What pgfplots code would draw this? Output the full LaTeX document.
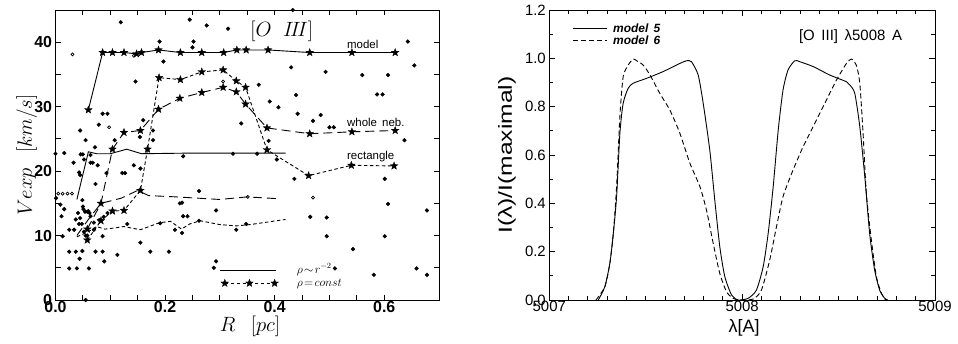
\documentclass[border=0pt]{standalone}
\usepackage{pgfplots}
\pgfplotsset{compat=1.18}
\usepackage{fontspec}
\setmainfont{Liberation Sans}
\usetikzlibrary{plotmarks}
\pgfdeclareplotmark{fstar}{%
  \pgfpathmoveto{\pgfpointpolar{90}{\pgfplotmarksize}}%
  \pgfpathlineto{\pgfpointpolar{126}{0.42\pgfplotmarksize}}%
  \pgfpathlineto{\pgfpointpolar{162}{\pgfplotmarksize}}%
  \pgfpathlineto{\pgfpointpolar{198}{0.42\pgfplotmarksize}}%
  \pgfpathlineto{\pgfpointpolar{234}{\pgfplotmarksize}}%
  \pgfpathlineto{\pgfpointpolar{270}{0.42\pgfplotmarksize}}%
  \pgfpathlineto{\pgfpointpolar{306}{\pgfplotmarksize}}%
  \pgfpathlineto{\pgfpointpolar{342}{0.42\pgfplotmarksize}}%
  \pgfpathlineto{\pgfpointpolar{18}{\pgfplotmarksize}}%
  \pgfpathlineto{\pgfpointpolar{54}{0.42\pgfplotmarksize}}%
  \pgfpathclose\pgfusepathqfillstroke}
\tikzset{
  longdash/.style={dash pattern=on 9bp off 5bp},
  shortdash/.style={dash pattern=on 3.5bp off 2.5bp},
}
\begin{document}
\begin{tikzpicture}
\begin{axis}[
  at={(55.5bp,44bp)}, anchor=south west, scale only axis,
  width=383.5bp, height=290bp,
  xmin=0, xmax=0.7, ymin=0, ymax=45,
  xtick={0,0.2,0.4,0.6}, minor x tick num=3,
  ytick={0,10,20,30,40}, minor y tick num=1,
  tick align=inside, major tick length=5bp, minor tick length=5bp,
  axis line style={line width=0.9bp}, every tick/.style={line width=0.8bp, black},
  /pgf/number format/assume math mode=true,
  xticklabel style={/pgf/number format/fixed, /pgf/number format/fixed zerofill, /pgf/number format/precision=1, font=\fontsize{16}{16}\selectfont\bfseries, yshift=2bp},
  yticklabel style={font=\fontsize{16}{16}\selectfont\bfseries},
  xlabel={$R\ \ \,[pc]$}, ylabel={$Vexp\ \ \,[km/s]$},
  label style={font=\fontsize{22}{24}\selectfont},
  xlabel style={at={(axis description cs:0.507,-0.092)}, anchor=center},
  ylabel style={at={(axis description cs:-0.075,0.5)}, anchor=center},
  clip=false,
]
% scatter points
\addplot[only marks, mark=*, mark size=1.9bp, black] coordinates {
(0.119,43.1)(0.245,43.5)(0.276,42.6)(0.315,42.1)(0.433,45.0)
(0.190,40.1)(0.252,40.1)(0.250,39.2)(0.197,37.0)
(0.643,40.1)(0.655,36.4)(0.430,36.1)(0.493,35.4)(0.560,34.9)(0.607,34.9)
(0.587,31.9)(0.597,31.9)(0.439,31.8)(0.391,30.8)(0.407,29.9)(0.442,28.9)(0.470,27.8)(0.484,28.7)
(0.371,33.4)(0.146,33.9)(0.339,27.4)(0.500,26.8)(0.508,26.8)(0.637,24.8)(0.389,24.7)
(0.436,18.8)(0.601,18.8)(0.607,14.9)(0.678,13.9)
(0.495,12.8)(0.495,9.9)(0.601,9.9)(0.543,7.9)(0.510,4.9)(0.581,3.9)(0.659,4.9)(0.678,3.9)
(0.465,12.9)
(0.233,22.3)(0.324,22.7)(0.368,22.7)(0.404,21.8)
(0.262,16.9)(0.231,15.1)(0.293,13.9)(0.233,13.0)(0.241,13.0)(0.262,12.3)(0.231,10.4)(0.330,10.9)(0.348,11.8)
(0.293,6.0)(0.289,5.0)
(0.207,7.5)(0.173,7.5)(0.155,8.9)(0.113,7.0)
(0.191,11.9)(0.218,10.9)(0.227,15.0)
(0.086,28.9)(0.095,28.9)(0.079,27.2)(0.045,26.3)(0.055,24.8)(0.072,23.7)(0.108,24.8)(0.154,25.3)(0.160,27.9)(0.178,26.3)(0.178,24.8)
(0.0,22.7)(0.016,22.8)(0.046,22.6)(0.050,22.6)(0.064,22.5)
(0.033,21.3)(0.052,21.8)(0.064,21.3)(0.068,21.3)(0.077,20.9)(0.043,19.8)(0.045,19.4)(0.073,18.0)(0.093,19.7)(0.122,19.7)(0.127,19.7)(0.143,20.9)(0.155,20.4)
(0.001,15.8)(0.009,14.8)(0.016,14.1)(0.011,13.0)(0.013,9.9)
(0.049,15.5)(0.051,14.1)(0.054,13.7)(0.058,13.7)(0.062,13.5)(0.037,12.5)(0.043,11.8)(0.048,11.8)(0.025,10.9)(0.034,10.9)(0.052,10.6)(0.055,10.0)(0.058,10.0)(0.070,10.9)(0.086,9.9)(0.095,13.5)(0.131,11.8)
(0.050,14.5)(0.060,13.8)(0.064,13.0)(0.070,12.0)(0.080,12.4)(0.088,12.9)(0.045,12.7)(0.041,13.5)
(0.025,7.5)(0.037,7.5)(0.049,7.6)(0.044,6.4)(0.073,7.5)(0.086,7.5)(0.089,6.0)
(0.025,4.9)(0.039,4.9)(0.061,4.9)(0.055,0.0)
};
\addplot[only marks, mark=o, mark size=1.5bp, black, line width=0.7bp] coordinates {
(0.031,38.1)(0.143,37.9)(0.098,26.8)(0.005,16.5)(0.013,16.5)(0.022,16.5)(0.030,16.5)(0.306,33.9)(0.351,16.0)(0.470,15.9)
};
% model, rho=const
\addplot[black, line width=0.9bp, mark=fstar, mark size=4bp, mark options={solid, line width=0.3bp}] coordinates {
(0.060,29.5)(0.086,38.4)(0.104,38.4)(0.125,38.4)(0.148,38.2)(0.157,38.4)(0.188,38.8)(0.228,38.4)(0.267,38.4)(0.307,38.4)(0.331,38.8)(0.348,38.8)(0.388,38.8)(0.464,38.4)(0.541,38.4)(0.620,38.4)
};
% model, rho~r^-2
\addplot[black, line width=0.9bp] coordinates {
(0.039,15.6)(0.060,23.0)(0.075,22.7)(0.10,22.7)(0.13,23.4)(0.157,22.7)(0.25,22.8)(0.35,22.8)(0.42,22.8)
};
% whole neb., rho=const
\addplot[black, line width=0.9bp, longdash, mark=fstar, mark size=4bp, mark options={solid, line width=0.3bp}] coordinates {
(0.058,11.0)(0.083,15.0)(0.104,23.4)(0.125,26.0)(0.155,26.3)(0.188,29.6)(0.227,31.3)(0.267,32.2)(0.306,33.0)(0.330,32.3)(0.347,30.4)(0.386,26.7)(0.464,25.8)(0.541,26.1)(0.620,26.3)
};
% whole neb., rho~r^-2
\addplot[black, line width=0.9bp, longdash] coordinates {
(0.039,10.0)(0.06,12.5)(0.083,15.0)(0.12,15.8)(0.15,17.0)(0.17,16.2)(0.22,16.0)(0.3,15.6)(0.35,16.0)(0.41,15.7)
};
% rectangle, rho=const
\addplot[black, line width=0.9bp, shortdash, mark=fstar, mark size=4bp, mark options={solid, line width=0.3bp}] coordinates {
(0.058,9.3)(0.083,12.3)(0.104,13.8)(0.125,13.9)(0.155,17.0)(0.168,23.4)(0.189,34.5)(0.228,34.2)(0.267,35.4)(0.306,35.7)(0.330,34.0)(0.347,33.0)(0.386,23.3)(0.462,19.3)(0.540,20.9)(0.618,20.8)
};
% rectangle, rho~r^-2
\addplot[black, line width=0.9bp, shortdash] coordinates {
(0.039,9.8)(0.06,10.6)(0.075,11.4)(0.09,11.0)(0.11,11.2)(0.125,11.4)(0.155,10.9)(0.19,12.0)(0.21,12.2)(0.23,11.0)(0.245,11.8)(0.264,12.3)(0.30,11.7)(0.33,11.5)(0.355,11.7)(0.42,12.5)
};
% legend samples
\addplot[black, line width=0.9bp] coordinates {(0.300,4.6)(0.402,4.6)};
\addplot[black, line width=0.9bp, shortdash, mark=fstar, mark size=4bp, mark options={solid, line width=0.3bp}] coordinates {(0.309,2.6)(0.354,2.6)(0.400,2.6)};
\node[anchor=west, font=\fontsize{12}{12}\selectfont, inner sep=0] at (axis cs:0.440,4.7) {$\rho\!\sim\! r^{-2}$};
\node[anchor=west, font=\fontsize{12}{12}\selectfont, inner sep=0] at (axis cs:0.440,2.5) {$\rho\!=\!const$};
\node[anchor=west, font=\fontsize{11.5}{12}\selectfont, inner sep=0] at (axis cs:0.532,39.6) {model};
\node[anchor=west, font=\fontsize{11.5}{12}\selectfont, inner sep=0] at (axis cs:0.532,27.5) {whole\,\ neb.};
\node[anchor=west, font=\fontsize{11.5}{12}\selectfont, inner sep=0] at (axis cs:0.532,22.3) {rectangle};
\node[font=\fontsize{22}{24}\selectfont, inner sep=0] at (axis cs:0.413,41.7) {$[O\;\;I\!I\!I]$};
\end{axis}

\begin{axis}[
  at={(549.3bp,44bp)}, anchor=south west, scale only axis,
  width=385.7bp, height=290bp,
  xmin=5007, xmax=5009, ymin=0, ymax=1.2,
  xtick={5007,5008,5009}, minor x tick num=9,
  ytick={0,0.2,0.4,0.6,0.8,1.0,1.2}, minor y tick num=1,
  tick align=inside, major tick length=6bp, minor tick length=4bp,
  axis line style={line width=0.9bp}, every tick/.style={line width=0.8bp, black},
  /pgf/number format/assume math mode=true,
  xticklabel style={/pgf/number format/fixed, /pgf/number format/1000 sep={}, font=\fontsize{15}{15}\selectfont, yshift=2bp},
  yticklabel style={/pgf/number format/fixed, /pgf/number format/fixed zerofill, /pgf/number format/precision=1, font=\fontsize{15}{15}\selectfont},
  scaled x ticks=false,
  xlabel={\fontsize{18}{20}\selectfont λ[A]},
  ylabel={\fontsize{19}{20}\selectfont\scalebox{1.3}[1]{I(λ)/I(maximal)}},
  xlabel style={at={(axis description cs:0.505,-0.097)}, anchor=center},
  ylabel style={at={(axis description cs:-0.11,0.5)}, anchor=center},
  clip=false,
]
% model 5
\addplot[black, line width=0.9bp, smooth, tension=0.4] coordinates {
(5007.254,0)(5007.288,0.055)(5007.314,0.152)(5007.332,0.276)(5007.349,0.428)(5007.366,0.69)(5007.383,0.814)(5007.409,0.876)(5007.435,0.897)(5007.504,0.917)(5007.59,0.945)(5007.677,0.979)(5007.712,0.990)(5007.737,0.986)(5007.772,0.931)(5007.798,0.814)(5007.832,0.621)(5007.858,0.414)(5007.884,0.221)(5007.910,0.097)(5007.945,0.021)(5007.979,0.0)(5008.031,0.007)(5008.074,0.041)(5008.109,0.138)(5008.135,0.276)(5008.161,0.469)(5008.187,0.703)(5008.212,0.869)(5008.238,0.952)(5008.273,0.990)(5008.299,0.986)(5008.368,0.966)(5008.454,0.931)(5008.541,0.903)(5008.558,0.890)(5008.584,0.855)(5008.610,0.717)(5008.636,0.510)(5008.661,0.276)(5008.687,0.124)(5008.713,0.041)(5008.739,0.007)(5008.756,0)
};
% model 6
\addplot[black, line width=0.9bp, dash pattern=on 5bp off 3bp, smooth, tension=0.4] coordinates {
(5007.242,0)(5007.288,0.055)(5007.314,0.152)(5007.332,0.276)(5007.349,0.47)(5007.366,0.76)(5007.383,0.924)(5007.409,0.972)(5007.435,0.997)(5007.453,0.99)(5007.487,0.972)(5007.522,0.931)(5007.573,0.855)(5007.625,0.786)(5007.677,0.690)(5007.729,0.566)(5007.781,0.469)(5007.815,0.372)(5007.85,0.234)(5007.884,0.110)(5007.919,0.034)(5007.953,0.007)(5007.988,0)(5008.057,0.004)(5008.1,0.041)(5008.143,0.166)(5008.178,0.303)(5008.212,0.428)(5008.264,0.538)(5008.316,0.634)(5008.368,0.717)(5008.437,0.828)(5008.489,0.910)(5008.541,0.979)(5008.567,0.997)(5008.592,0.972)(5008.61,0.897)(5008.627,0.69)(5008.644,0.441)(5008.67,0.248)(5008.696,0.097)(5008.722,0.028)(5008.744,0)
};
\addplot[black, line width=0.9bp] coordinates {(5007.123,1.124)(5007.299,1.124)};
\addplot[black, line width=0.9bp, dash pattern=on 5bp off 3bp] coordinates {(5007.123,1.076)(5007.299,1.076)};
\node[anchor=west, font=\fontsize{12}{12}\selectfont\bfseries\itshape, inner sep=0] at (axis cs:5007.33,1.124) {model\, 5};
\node[anchor=west, font=\fontsize{12}{12}\selectfont\bfseries\itshape, inner sep=0] at (axis cs:5007.33,1.076) {model\, 6};
\node[anchor=east, font=\fontsize{15}{15}\selectfont, inner sep=0] at (axis cs:5008.83,1.088) {[O\,\ III]\,\ λ5008\,\ A};
\end{axis}
\pgfresetboundingbox
\path[use as bounding box] (0,0) rectangle (958bp,344bp);
\end{tikzpicture}
\end{document}
